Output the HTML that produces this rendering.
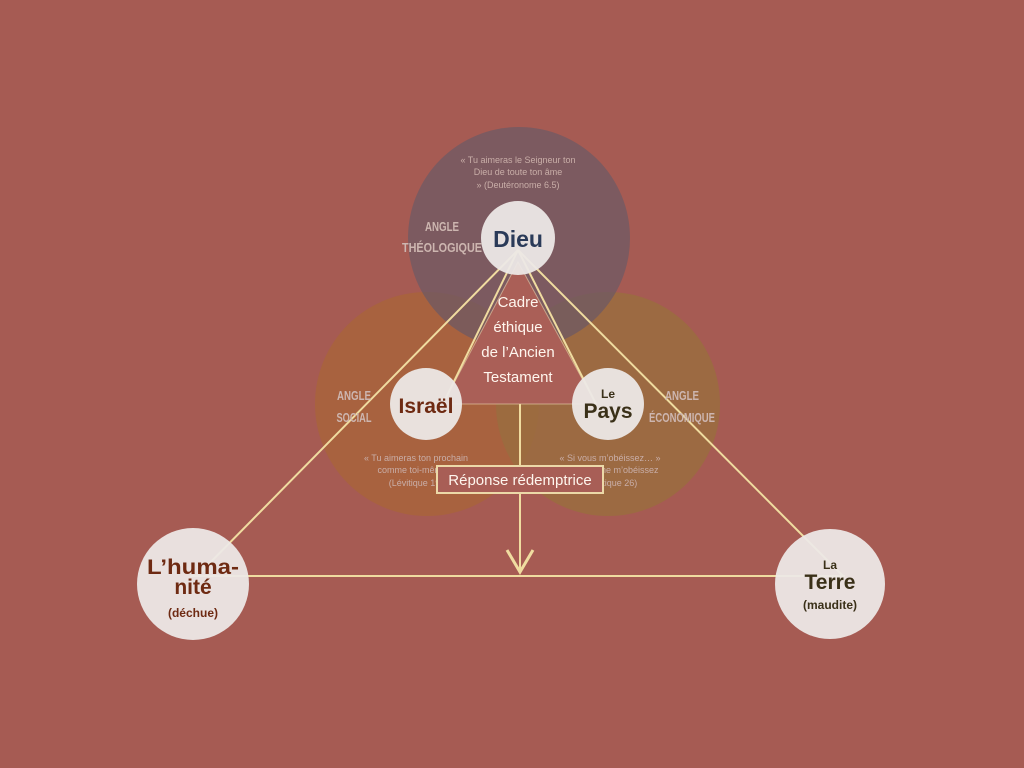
<!DOCTYPE html>
<html><head><meta charset="utf-8"><style>
html,body{margin:0;padding:0;background:#a65b53}
svg{display:block}
text{font-family:"Liberation Sans",sans-serif}
.c{font-family:"Liberation Sans Narrow","Liberation Sans",sans-serif}
</style></head><body>
<svg width="1024" height="768" viewBox="0 0 1024 768" xmlns="http://www.w3.org/2000/svg">
<rect width="1024" height="768" fill="#a65b53"/>
<circle cx="427" cy="404" r="112" fill="#a8643c" fill-opacity="0.85"/>
<circle cx="608" cy="404" r="112" fill="#9a6d40" fill-opacity="0.85"/>
<circle cx="519" cy="238" r="111" fill="#6e5a64" fill-opacity="0.75"/>
<polygon points="518,262 443,404 596,404" fill="#aa5f57" stroke="#e9d3ad" stroke-width="1" stroke-opacity="0.6"/>
<g stroke="#f0dca0" stroke-width="2" fill="none">
<line x1="518" y1="250" x2="197" y2="576"/>
<line x1="518" y1="250" x2="843" y2="576"/>
<line x1="518" y1="250" x2="443" y2="404"/>
<line x1="518" y1="250" x2="596" y2="404"/>
<line x1="190" y1="576" x2="845" y2="576"/>
<line x1="520" y1="404" x2="520" y2="570"/>
<polyline points="507,550 520,572 533,550" stroke-width="3"/>
</g>
<g fill="#ece8e6" fill-opacity="0.95">
<circle cx="518" cy="238" r="37"/>
<circle cx="426" cy="404" r="36"/>
<circle cx="608" cy="404" r="36"/>
<circle cx="193" cy="584" r="56"/>
<circle cx="830" cy="584" r="55"/>
</g>
<text x="518" y="247" text-anchor="middle" font-size="23" font-weight="bold" fill="#2a3a58">Dieu</text>
<text x="426" y="413" text-anchor="middle" font-size="21" font-weight="bold" fill="#6e2a12">Israël</text>
<text x="608" y="398" text-anchor="middle" font-size="12" font-weight="bold" fill="#3a3018">Le</text>
<text x="608" y="418" text-anchor="middle" font-size="21" font-weight="bold" fill="#3a3018">Pays</text>
<text x="193" y="574" text-anchor="middle" font-size="21" font-weight="bold" fill="#6e2a12" textLength="92" lengthAdjust="spacingAndGlyphs">L’huma-</text>
<text x="193" y="594" text-anchor="middle" font-size="21" font-weight="bold" fill="#6e2a12">nité</text>
<text x="193" y="617" text-anchor="middle" font-size="12" font-weight="bold" fill="#6e2a12">(déchue)</text>
<text x="830" y="569" text-anchor="middle" font-size="12" font-weight="bold" fill="#3a3018">La</text>
<text x="830" y="589" text-anchor="middle" font-size="21" font-weight="bold" fill="#3a3018">Terre</text>
<text x="830" y="609" text-anchor="middle" font-size="12" font-weight="bold" fill="#3a3018">(maudite)</text>
<g text-anchor="middle" font-size="15" fill="#fff6ee">
<text x="518" y="307">Cadre</text>
<text x="518" y="332">éthique</text>
<text x="518" y="357">de l’Ancien</text>
<text x="518" y="382">Testament</text>
</g>
<g class="c" text-anchor="middle" font-size="13" font-weight="bold" fill="#cdb6b0" lengthAdjust="spacingAndGlyphs">
<text x="442" y="231" textLength="34" lengthAdjust="spacingAndGlyphs">ANGLE</text>
<text x="442" y="252" textLength="80" lengthAdjust="spacingAndGlyphs">THÉOLOGIQUE</text>
<text x="354" y="400" textLength="34" lengthAdjust="spacingAndGlyphs">ANGLE</text>
<text x="354" y="422" textLength="35" lengthAdjust="spacingAndGlyphs">SOCIAL</text>
<text x="682" y="400" textLength="34" lengthAdjust="spacingAndGlyphs">ANGLE</text>
<text x="682" y="422" textLength="66" lengthAdjust="spacingAndGlyphs">ÉCONOMIQUE</text>
</g>
<g text-anchor="middle" font-size="9" fill="#c9aea8">
<text x="518" y="163">« Tu aimeras le Seigneur ton</text>
<text x="518" y="175">Dieu de toute ton âme</text>
<text x="518" y="188">» (Deutéronome 6.5)</text>
<text x="416" y="461">« Tu aimeras ton prochain</text>
<text x="416" y="473">comme toi-même »</text>
<text x="416" y="486">(Lévitique 19)</text>
<text x="610" y="461">« Si vous m’obéissez… »</text>
<text x="610" y="473">« Si vous ne m’obéissez</text>
<text x="610" y="486">(Lévitique 26)</text>
</g>
<rect x="437" y="466" width="166" height="27" fill="#a85e56" stroke="#ecd9a8" stroke-width="2"/>
<text x="520" y="485" text-anchor="middle" font-size="15" fill="#fff6ee">Réponse rédemptrice</text>
</svg>
</body></html>
